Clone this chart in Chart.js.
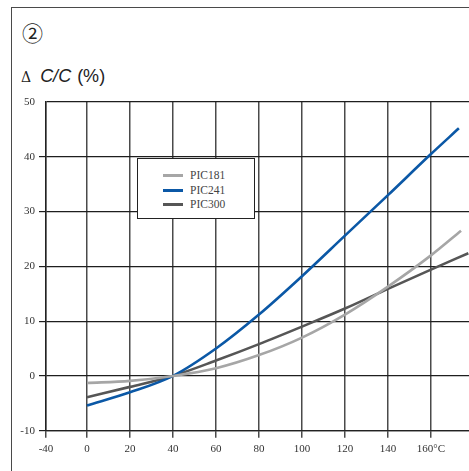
<!DOCTYPE html>
<html>
<head>
<meta charset="utf-8">
<script src="https://cdn.jsdelivr.net/npm/chart.js@4"></script>
<style>
  html, body { margin: 0; padding: 0; background: #fff; }
  #wrap { position: relative; width: 469px; height: 471px; overflow: hidden; background: #fff; }
  #frame { position: absolute; left: 11px; top: 7px; width: 470px; height: 480px;
           border-top: 1.6px solid #4a4a4a; border-left: 1.6px solid #4a4a4a; box-sizing: border-box; }
  #num { position: absolute; left: 22px; top: 17px; font: 21px "Noto Sans CJK JP", "DejaVu Sans", sans-serif; color: #222; line-height: 30px; }
  #ylab { position: absolute; left: 21px; top: 66px; font: 18px "Liberation Sans", Arial, sans-serif; color: #222; white-space: nowrap; }
  #ylab .d { font: 14px "DejaVu Serif", serif; margin-right: 9px; }
  #ylab i { font-style: italic; margin-right: 1px; }
  canvas { position: absolute; left: 0; top: 0; }
  #legend { position: absolute; left: 137px; top: 158px; width: 118px; height: 61px; box-sizing: border-box;
            border: 1.3px solid #222; background: #fff; padding-top: 9px; }
  .li { position: relative; height: 14.5px; }
  .li .sw { position: absolute; left: 25px; top: 6px; width: 20px; height: 3px; }
  .li .tx { position: absolute; left: 52px; top: 0px; font: 11.5px "Liberation Serif", "DejaVu Serif", serif; color: #444; line-height: 14px; }
</style>
</head>
<body>
<div id="wrap">
  <div id="frame"></div>
  <div id="num">②</div>
  <div id="ylab"><span class="d">Δ</span><i>C/C</i> (%)</div>
  <canvas id="c" width="469" height="471"></canvas>
  <div id="legend"></div>
</div>
<script>
// ---- data ----
const seriesNames = ['PIC181', 'PIC241', 'PIC300'];
const temps = [0, 20, 40, 60, 80, 100, 120, 140, 160];
const pic181 = [-1.3, -0.9, 0, 1.4, 3.8, 7.0, 11.2, 16.3, 22.0];
const pic241 = [-5.4, -3.0, 0, 5.0, 11.2, 18.2, 25.6, 33.0, 40.5];
const pic300 = [-3.9, -2.0, 0, 2.8, 5.8, 9.0, 12.3, 15.9, 19.4];
const lastTemps = [174, 173, 177.4];
const lastValues = [26.5, 45.2, 22.4];
const xTickLabels = ['-40', '0', '20', '40', '60', '80', '100', '120', '140', '160°C'];
const xTickValues = [-40, 0, 20, 40, 60, 80, 100, 120, 140, 160];
const yTickValues = [-10, 0, 10, 20, 30, 40, 50];

// axis break: the -40 gridline sits closer to 0 than a full 20-degree step
const X_BREAK_POS = -19.07;
const X_MAX = 177.7;
const colors = ['#a6a6a6', '#0b58a6', '#565656'];

const allValues = [pic181, pic241, pic300];
function pts(i) {
  const p = temps.map((t, k) => ({ x: t, y: allValues[i][k] }));
  p.push({ x: lastTemps[i], y: lastValues[i] });
  return p;
}

const datasets = seriesNames.map((n, i) => ({
  label: n,
  data: pts(i),
  borderColor: colors[i],
  backgroundColor: colors[i],
  borderWidth: 2.6,
  pointRadius: 0,
  cubicInterpolationMode: 'monotone',
  fill: false,
  order: i
}));

const tickFont = { family: '"Liberation Serif", "DejaVu Serif", serif', size: 11 };

new Chart(document.getElementById('c'), {
  type: 'line',
  data: { datasets },
  options: {
    responsive: false,
    animation: false,
    devicePixelRatio: 1,
    layout: { padding: { top: 102, right: 0, left: 0, bottom: 0 } },
    plugins: { legend: { display: false }, tooltip: { enabled: false } },
    scales: {
      x: {
        type: 'linear',
        min: X_BREAK_POS,
        max: X_MAX,
        afterBuildTicks: (s) => {
          s.ticks = xTickValues.map(v => ({ value: v < 0 ? X_BREAK_POS : v }));
        },
        afterFit: (s) => { s.height = 40.3; },
        ticks: {
          autoSkip: false,
          maxRotation: 0,
          padding: 5,
          color: '#333',
          font: tickFont,
          callback: (v, i) => xTickLabels[i]
        },
        grid: { color: '#4a4a4a', lineWidth: 1.5, tickLength: 7, tickColor: '#4a4a4a' },
        border: { display: true, color: '#222', width: 1.3 }
      },
      y: {
        type: 'linear',
        min: -10,
        max: 50,
        afterBuildTicks: (s) => { s.ticks = yTickValues.map(v => ({ value: v })); },
        afterFit: (s) => { s.width = 46; },
        ticks: {
          padding: 4,
          color: '#333',
          font: tickFont
        },
        grid: {
          color: '#1e1e1e',
          lineWidth: 1.2,
          tickLength: 7,
          tickColor: (ctx) => (ctx.tick && ctx.tick.value === 50) ? 'rgba(0,0,0,0)' : '#1e1e1e'
        },
        border: { display: true, color: '#222', width: 1.4 }
      }
    }
  }
});

// legend built from the same series
const lg = document.getElementById('legend');
seriesNames.forEach((n, i) => {
  const d = document.createElement('div');
  d.className = 'li';
  d.innerHTML = '<div class="sw" style="background:' + colors[i] + '"></div><div class="tx">' + n + '</div>';
  lg.appendChild(d);
});
</script>
</body>
</html>
